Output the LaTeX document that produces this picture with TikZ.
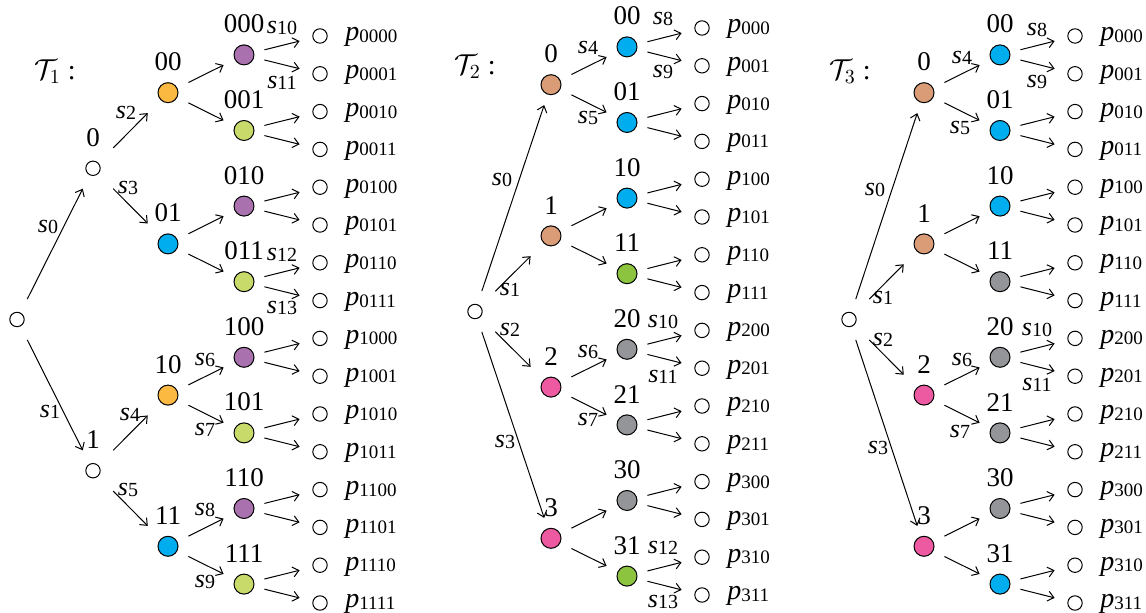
\documentclass[tikz,border=0pt]{standalone}
\usepackage{fontspec}
\setmainfont{Liberation Serif}
\usetikzlibrary{arrows.meta}
\definecolor{cor}{HTML}{FBB941}
\definecolor{cpu}{HTML}{A972AE}
\definecolor{cyg}{HTML}{C8DA6A}
\definecolor{cbl}{HTML}{00AEEF}
\definecolor{cbr}{HTML}{DA9C77}
\definecolor{cpk}{HTML}{EE5AA1}
\definecolor{cgr}{HTML}{939598}
\definecolor{cgn}{HTML}{8CC43F}
\newcommand\slab[1]{\textit{s}\raisebox{-0.8pt}{\fontsize{10}{11}\selectfont #1}}
\newcommand\plab[1]{\textit{p}\raisebox{-0.8pt}{\fontsize{9.5}{11}\selectfont #1}}
\begin{document}
\begin{tikzpicture}[x=0.5pt,y=-0.5pt,
  nbox/.style={rectangle, minimum size=20pt, inner sep=0pt},
  wn/.style={nbox, path picture={\draw[line width=0.5pt, fill=white] (path picture bounding box.center) circle (3.6pt);}},
  cn/.style={nbox, path picture={\draw[line width=0.5pt, fill=#1] (path picture bounding box.center) circle (5pt);}},
  nl/.style={label={[font=\fontsize{13.5}{15}\selectfont, inner sep=0pt, label distance=0.5pt]above:#1}},
  arr/.style={draw, line width=0.5pt, -{Straight Barb[length=3pt,width=5pt]}},
  sl/.style={font=\fontsize{13}{15}\selectfont, inner sep=0pt},
  pl/.style={font=\fontsize{14}{16}\selectfont, inner sep=0pt, anchor=base west},
  tl/.style={font=\fontsize{14}{16}\selectfont, inner sep=0pt}]
\useasboundingbox (0,0) rectangle (1146,613);

% ================= Tree 1 =================
\node[tl] (t1title) at (55,72) {$\mathcal{T}_1$ :};
\node[wn] (r1) at (17,319.5) {};
\node[wn, nl=0] (t1n0) at (93,168.3) {};
\node[wn, nl=1] (t1n1) at (93,470.7) {};
\node[cn=cor, nl=00] (t1n00) at (168,92.7) {};
\node[cn=cbl, nl=01] (t1n01) at (168,243.9) {};
\node[cn=cor, nl=10] (t1n10) at (168,395.1) {};
\node[cn=cbl, nl=11] (t1n11) at (168,546.3) {};
\node[cn=cpu, nl=000] (t1n000) at (244,54.9) {};
\node[cn=cyg, nl=001] (t1n001) at (244,130.5) {};
\node[cn=cpu, nl=010] (t1n010) at (244,206.1) {};
\node[cn=cyg, nl=011] (t1n011) at (244,281.7) {};
\node[cn=cpu, nl=100] (t1n100) at (244,357.3) {};
\node[cn=cyg, nl=101] (t1n101) at (244,432.9) {};
\node[cn=cpu, nl=110] (t1n110) at (244,508.5) {};
\node[cn=cyg, nl=111] (t1n111) at (244,584.1) {};
\foreach \i/\b in {0/0000,1/0001,2/0010,3/0011,4/0100,5/0101,6/0110,7/0111,8/1000,9/1001,10/1010,11/1011,12/1100,13/1101,14/1110,15/1111}{
  \node[wn] (t1l\b) at (320,{36+37.8*\i}) {};
  \node[pl] (t1p\b) at (345,{41+37.8*\i}) {\plab{\b}};
}
\draw[arr] (r1) -- (t1n0);
\draw[arr] (r1) -- (t1n1);
\foreach \a in {0,1}{\foreach \c in {0,1}{\draw[arr] (t1n\a) -- (t1n\a\c);}}
\foreach \a in {00,01,10,11}{\foreach \c in {0,1}{\draw[arr] (t1n\a) -- (t1n\a\c);}}
\foreach \a in {000,001,010,011,100,101,110,111}{\foreach \c in {0,1}{\draw[arr] (t1n\a) -- (t1l\a\c);}}
\node[sl] (t1s0) at (48,227) {\slab{0}};
\node[sl] (t1s1) at (50,412) {\slab{1}};
\node[sl] (t1s2) at (126,113) {\slab{2}};
\node[sl] (t1s3) at (128,188) {\slab{3}};
\node[sl] (t1s4) at (130,415) {\slab{4}};
\node[sl] (t1s5) at (128,490) {\slab{5}};
\node[sl] (t1s6) at (205,360) {\slab{6}};
\node[sl] (t1s7) at (205,430) {\slab{7}};
\node[sl] (t1s8) at (205,510) {\slab{8}};
\node[sl] (t1s9) at (205,582) {\slab{9}};
\node[sl] (t1s10) at (282,28) {\slab{10}};
\node[sl] (t1s11) at (282,83) {\slab{11}};
\node[sl] (t1s12) at (282,255) {\slab{12}};
\node[sl] (t1s13) at (282,308) {\slab{13}};

% ================= Tree 2 =================
\node[tl] (t2title) at (475,67) {$\mathcal{T}_2$ :};
\node[wn] (r2) at (475,311.5) {};
\node[cn=cbr, nl=0] (t2n0) at (551,84.7) {};
\node[cn=cbr, nl=1] (t2n1) at (551,235.9) {};
\node[cn=cpk, nl=2] (t2n2) at (551,387.1) {};
\node[cn=cpk, nl=3] (t2n3) at (551,538.3) {};
\node[cn=cbl, nl=00] (t2n00) at (627,46.9) {};
\node[cn=cbl, nl=01] (t2n01) at (627,122.5) {};
\node[cn=cbl, nl=10] (t2n10) at (627,198.1) {};
\node[cn=cgn, nl=11] (t2n11) at (627,273.7) {};
\node[cn=cgr, nl=20] (t2n20) at (627,349.3) {};
\node[cn=cgr, nl=21] (t2n21) at (627,424.9) {};
\node[cn=cgr, nl=30] (t2n30) at (627,500.5) {};
\node[cn=cgn, nl=31] (t2n31) at (627,576.1) {};
\foreach \i/\b in {0/000,1/001,2/010,3/011,4/100,5/101,6/110,7/111,8/200,9/201,10/210,11/211,12/300,13/301,14/310,15/311}{
  \node[wn] (t2l\b) at (702,{28+37.8*\i}) {};
  \node[pl] (t2p\b) at (727,{33+37.8*\i}) {\plab{\b}};
}
\foreach \a in {0,1,2,3}{\draw[arr] (r2) -- (t2n\a);}
\foreach \a in {0,1,2,3}{\foreach \c in {0,1}{\draw[arr] (t2n\a) -- (t2n\a\c);}}
\foreach \a in {00,01,10,11,20,21,30,31}{\foreach \c in {0,1}{\draw[arr] (t2n\a) -- (t2l\a\c);}}
\node[sl] (t2s0) at (502,180) {\slab{0}};
\node[sl] (t2s1) at (510,290) {\slab{1}};
\node[sl] (t2s2) at (510,330) {\slab{2}};
\node[sl] (t2s3) at (505,442) {\slab{3}};
\node[sl] (t2s4) at (588,48) {\slab{4}};
\node[sl] (t2s5) at (588,118) {\slab{5}};
\node[sl] (t2s6) at (588,352) {\slab{6}};
\node[sl] (t2s7) at (588,420) {\slab{7}};
\node[sl] (t2s8) at (663,19) {\slab{8}};
\node[sl] (t2s9) at (663,72) {\slab{9}};
\node[sl] (t2s10) at (663,322) {\slab{10}};
\node[sl] (t2s11) at (663,377) {\slab{11}};
\node[sl] (t2s12) at (663,548) {\slab{12}};
\node[sl] (t2s13) at (663,602) {\slab{13}};

% ================= Tree 3 =================
\node[tl] (t3title) at (850,72) {$\mathcal{T}_3$ :};
\node[wn] (r3) at (849,319.5) {};
\node[cn=cbr, nl=0] (t3n0) at (924,92.7) {};
\node[cn=cbr, nl=1] (t3n1) at (924,243.9) {};
\node[cn=cpk, nl=2] (t3n2) at (924,395.1) {};
\node[cn=cpk, nl=3] (t3n3) at (924,546.3) {};
\node[cn=cbl, nl=00] (t3n00) at (1000,54.9) {};
\node[cn=cbl, nl=01] (t3n01) at (1000,130.5) {};
\node[cn=cbl, nl=10] (t3n10) at (1000,206.1) {};
\node[cn=cgr, nl=11] (t3n11) at (1000,281.7) {};
\node[cn=cgr, nl=20] (t3n20) at (1000,357.3) {};
\node[cn=cgr, nl=21] (t3n21) at (1000,432.9) {};
\node[cn=cgr, nl=30] (t3n30) at (1000,508.5) {};
\node[cn=cbl, nl=31] (t3n31) at (1000,584.1) {};
\foreach \i/\b in {0/000,1/001,2/010,3/011,4/100,5/101,6/110,7/111,8/200,9/201,10/210,11/211,12/300,13/301,14/310,15/311}{
  \node[wn] (t3l\b) at (1075,{36+37.8*\i}) {};
  \node[pl] (t3p\b) at (1100,{41+37.8*\i}) {\plab{\b}};
}
\foreach \a in {0,1,2,3}{\draw[arr] (r3) -- (t3n\a);}
\foreach \a in {0,1,2,3}{\foreach \c in {0,1}{\draw[arr] (t3n\a) -- (t3n\a\c);}}
\foreach \a in {00,01,10,11,20,21,30,31}{\foreach \c in {0,1}{\draw[arr] (t3n\a) -- (t3l\a\c);}}
\node[sl] (t3s0) at (875,190) {\slab{0}};
\node[sl] (t3s1) at (883,298) {\slab{1}};
\node[sl] (t3s2) at (883,340) {\slab{2}};
\node[sl] (t3s3) at (878,448) {\slab{3}};
\node[sl] (t3s4) at (962,58) {\slab{4}};
\node[sl] (t3s5) at (960,128) {\slab{5}};
\node[sl] (t3s6) at (962,360) {\slab{6}};
\node[sl] (t3s7) at (960,432) {\slab{7}};
\node[sl] (t3s8) at (1037,30) {\slab{8}};
\node[sl] (t3s9) at (1037,82) {\slab{9}};
\node[sl] (t3s10) at (1037,330) {\slab{10}};
\node[sl] (t3s11) at (1037,385) {\slab{11}};
\end{tikzpicture}
\end{document}
